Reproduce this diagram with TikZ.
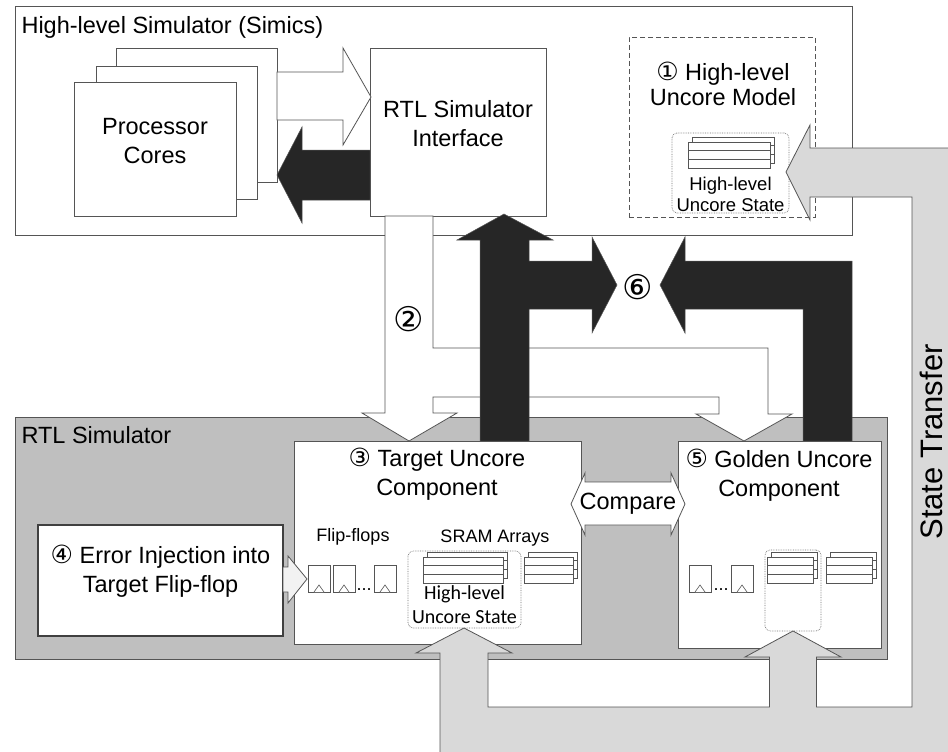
\documentclass[tikz,border=0pt]{standalone}
\usepackage{fontspec}
\setmainfont{Liberation Sans}
\newfontfamily\calibrifont{Carlito}
\newfontfamily\circfont{DejaVu Sans}
\usetikzlibrary{fit}
\definecolor{simgray}{RGB}{191,191,191}
\definecolor{xfergray}{RGB}{217,217,217}
\definecolor{darkfill}{RGB}{38,38,38}
\definecolor{edgegray}{RGB}{85,85,85}
\newcommand{\circnum}[1]{{\circfont\fontsize{25}{25}\selectfont #1}}

\begin{document}
\begin{tikzpicture}[x=1pt, y=-1pt,
    panel/.style={draw=edgegray, line width=0.8pt, fill=white, inner sep=0pt},
    simbox/.style={panel, fill=simgray},
    bigtxt/.style={font=\fontsize{23.5}{29}\selectfont, align=center},
    smalltxt/.style={font=\fontsize{18}{21}\selectfont},
    circtxt/.style={font={\circfont\fontsize{34}{34}\selectfont}},
    whitearrow/.style={draw=edgegray, line width=0.8pt, fill=white},
    blackarrow/.style={draw=edgegray, line width=0.5pt, fill=darkfill},
    xferarrow/.style={draw=edgegray, line width=0.8pt, fill=xfergray},
    reg/.style={draw=edgegray, line width=0.6pt, fill=white},
    statebox/.style={draw=black!55, densely dotted, line width=0.7pt, rounded corners=5pt, inner sep=0pt},
    regs/.pic={
      \foreach \k in {0,1,2} \draw[reg] (4,{\k*8.7-5}) rectangle ++(#1,8.7);
      \foreach \k in {0,1,2} \draw[reg] (0,{\k*8.7}) rectangle ++(#1,8.7);
    },
    ff/.pic={
      \draw[reg] (0,0) rectangle (22,27);
      \draw[reg] (6,27) -- (11,20) -- (16,27);
    }
]
\useasboundingbox (0,0) rectangle (948,752);
\clip (0,0) rectangle (948,752);
\fill[white] (0,0) rectangle (948,752);

% high-level simulator
\node[panel, fit={(15,6) (852,235)}] (hls) {};
\node[bigtxt, anchor=west] (hlstitle) at (18,27) {High-level Simulator (Simics)};
\node[panel, fit={(116,48) (277,182)}] (coreC) {};
\node[panel, fit={(96,66) (257,199)}] (coreB) {};
\node[panel, bigtxt, fit={(74,82) (236,216)}] (coreA) {Processor\\Cores};
\node[panel, bigtxt, fit={(370,48) (546,216)}] (iface) {RTL Simulator\\Interface};
\draw[whitearrow] (277,72) -- (343,72) -- (343,48) -- (371,97) -- (343,145) -- (343,120) -- (277,120) -- cycle;
\draw[blackarrow] (370,150) -- (302,150) -- (302,127) -- (277,175) -- (302,223) -- (302,200) -- (370,200) -- cycle;

\node[panel, dash pattern=on 5pt off 3pt, fit={(629,37) (815,217)}] (hlmodel) {};
\node[bigtxt, font=\fontsize{23.5}{25}\selectfont] (hlmodeltxt) at (723,84) {\circnum{①} High-level\\Uncore Model};
\node[statebox, fit={(672,133) (789,213)}] (hlstate) {};
\pic at (688,142) {regs=82};
\node[font=\fontsize{18.5}{21}\selectfont, align=center] (hlstatetxt) at (730.5,194) {High-level\\Uncore State};

% rtl simulator
\node[simbox, fit={(15,417) (887,659)}] (rtl) {};
\node[bigtxt, anchor=west] (rtltitle) at (18,435) {RTL Simulator};

\draw[whitearrow] (385,216) -- (385,413) -- (362,413) -- (409,441) -- (457,413) -- (433,413) -- (433,397) -- (719,397) -- (719,414) -- (696,414) -- (744,441) -- (792,414) -- (768,414) -- (768,348) -- (433,348) -- (433,216) -- cycle;
\draw[blackarrow] (480,441) -- (480,240) -- (457,240) -- (504,214) -- (553,240) -- (529,240) -- (529,261) -- (592,261) -- (592,237) -- (617,285) -- (592,333) -- (592,309) -- (529,309) -- (529,441) -- cycle;
\draw[blackarrow] (803,441) -- (803,309) -- (685,309) -- (685,333) -- (660,285) -- (685,237) -- (685,261) -- (852,261) -- (852,441) -- cycle;

\node[panel, fit={(294,441) (581,644)}] (target) {};
\node[bigtxt] (targettxt) at (437,474) {\circnum{③} Target Uncore\\Component};
\node[smalltxt] (fflabel) at (353,537) {Flip-flops};
\pic at (308,565) {ff};
\pic at (333,565) {ff};
\node[smalltxt, anchor=base] (ffdots) at (364,590) {...};
\pic at (374,565) {ff};
\node[smalltxt] (sramlabel) at (495,538) {SRAM Arrays};
\node[statebox, fit={(408,551) (521,628)}] (tstate) {};
\pic at (423,557) {regs=80};
\pic at (524,557) {regs=49};
\node[font={\calibrifont\fontsize{20}{24}\selectfont}, align=center] (tstatetxt) at (464.5,605) {High-level\\Uncore State};

\node[panel, fit={(678,441) (881,648)}] (golden) {};
\node[bigtxt] (goldentxt) at (779,475) {\circnum{⑤} Golden Uncore\\Component};
\pic at (689,565) {ff};
\node[smalltxt, anchor=base] (gffdots) at (721,590) {...};
\pic at (731,565) {ff};
\node[statebox, fit={(765,550) (821,631)}] (gstate) {};
\pic at (767,557) {regs=46};
\pic at (826,557) {regs=46};

\node[panel, bigtxt, draw=black!75, line width=2.4pt, fit={(38,525) (283,636)}] (inject) {\circnum{④} Error Injection into\\Target Flip-flop};
\draw[whitearrow, fill=black!5] (283,567) -- (288,567) -- (288,556) -- (307,579) -- (288,603) -- (288,592) -- (283,592) -- cycle;

\draw[whitearrow] (571,504) -- (585,473) -- (585,482) -- (671,482) -- (671,473) -- (685,504) -- (671,535) -- (671,525) -- (585,525) -- (585,535) -- cycle;
\node[bigtxt] (cmp) at (628,504) {Compare};

% state transfer
\draw[xferarrow] (440,770) -- (440,653) -- (416,653) -- (464,628) -- (512,653) -- (488,653) -- (488,707) -- (769.5,707) -- (769.5,657) -- (745,657) -- (793,631) -- (841,657) -- (816.5,657) -- (816.5,707) -- (912,707) -- (912,197) -- (810,197) -- (810,220) -- (786,172) -- (810,125) -- (810,148) -- (961,148) -- (961,770) -- cycle;

\node[circtxt] (step2) at (409,319) {②};
\node[circtxt] (step6) at (638,287) {⑥};
\node[font=\fontsize{31}{31}\selectfont, rotate=90, inner sep=0pt] (xfer) at (931,442) {State Transfer};
\end{tikzpicture}
\end{document}
